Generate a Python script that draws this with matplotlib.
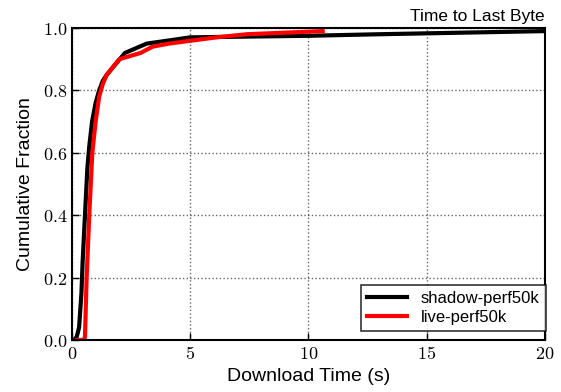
import matplotlib
matplotlib.use("Agg")
import matplotlib.pyplot as plt
from matplotlib.ticker import FuncFormatter

# CDF points
shadow_x = [0.1, 0.2, 0.3, 0.4, 0.45, 0.55, 0.65, 0.73, 0.85, 1.0, 1.15, 1.3, 1.47, 1.8, 2.24, 3.16, 4.1, 5.0, 10.0, 13.0, 20.0]
shadow_y = [0.0, 0.01, 0.04, 0.15, 0.25, 0.4, 0.55, 0.62, 0.7, 0.76, 0.8, 0.83, 0.85, 0.88, 0.92, 0.95, 0.96, 0.97, 0.975, 0.98, 0.99]

live_x = [0.2, 0.5, 0.55, 0.62, 0.73, 0.86, 1.0, 1.15, 1.3, 1.47, 2.0, 2.9, 3.4, 4.1, 5.1, 6.1, 7.4, 10.6]
live_y = [0.0, 0.0, 0.01, 0.2, 0.4, 0.6, 0.7, 0.78, 0.82, 0.85, 0.9, 0.92, 0.94, 0.95, 0.96, 0.97, 0.98, 0.99]

plt.rcParams["mathtext.fontset"] = "cm"
sans = "Liberation Sans"

fig = plt.figure(figsize=(5.61, 3.92), dpi=100)
ax = fig.add_axes([0.1283, 0.1327, 0.8432, 0.7959])

ax.plot(shadow_x, shadow_y, color="black", linewidth=3, label="shadow-perf50k")
ax.plot(live_x, live_y, color="red", linewidth=3, label="live-perf50k")

ax.set_xlim(0, 20)
ax.set_ylim(0, 1.0)
ax.set_xticks([0, 5, 10, 15, 20])
ax.set_yticks([0, 0.2, 0.4, 0.6, 0.8, 1.0])
ax.xaxis.set_major_formatter(FuncFormatter(lambda v, p: r"$%d$" % v))
ax.yaxis.set_major_formatter(FuncFormatter(lambda v, p: r"$%.1f$" % v))
ax.tick_params(labelsize=13, direction="in", length=5, width=1)

ax.grid(True, color="black", linestyle=":", linewidth=1, alpha=0.6)
for s in ax.spines.values():
    s.set_linewidth(1.5)

ax.set_xlabel("Download Time (s)", fontsize=14, family=sans, labelpad=4)
ax.set_ylabel("Cumulative Fraction", fontsize=14, family=sans, labelpad=6)
ax.set_title("Time to Last Byte", fontsize=12.5, family=sans, loc="right", pad=5)

leg = ax.legend(loc="lower right", bbox_to_anchor=(1.002, 0.028), fancybox=False,
                handlelength=2.4, borderaxespad=0,
                prop={"family": sans, "size": 12}, labelspacing=0.2)
leg.get_frame().set_edgecolor("black")
leg.get_frame().set_linewidth(1.2)

fig.savefig("out.png", dpi=100)
